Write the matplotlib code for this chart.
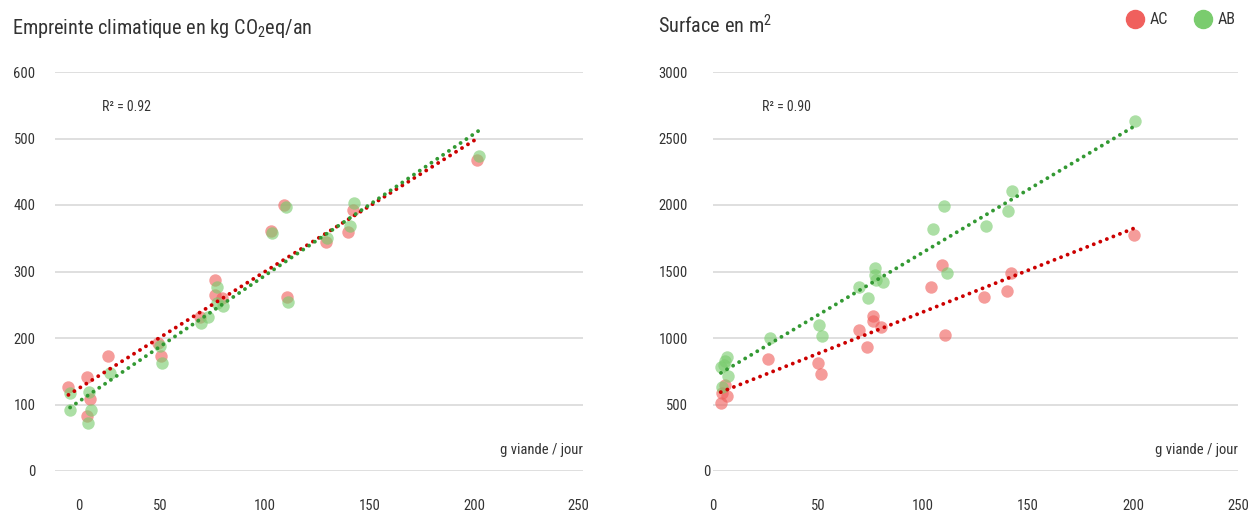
import numpy as np
import matplotlib
matplotlib.use("Agg")
import matplotlib.pyplot as plt
import matplotlib.transforms as mtransforms
from matplotlib.lines import Line2D
from matplotlib import font_manager

# pick a condensed sans family if one is installed
_names = sorted({f.name for f in font_manager.fontManager.ttflist})
_cond = [n for n in _names if ('Condensed' in n or 'Narrow' in n)]
_pref = ['Roboto Condensed', 'Liberation Sans Narrow', 'Open Sans Condensed', 'Noto Sans Condensed']
MAIN = next((n for n in _pref if n in _names), _cond[0] if _cond else 'Roboto')
CONDENSED = MAIN != 'Roboto'
SCALE = 1.0 if CONDENSED else 0.93

FONT = [MAIN, 'DejaVu Sans']
plt.rcParams['font.family'] = FONT
plt.rcParams['mathtext.fontset'] = 'custom'
plt.rcParams['mathtext.rm'] = MAIN
plt.rcParams['mathtext.it'] = MAIN

# ---- data: left panel (climate footprint, kg CO2eq / year) ----
cl_ac_x = [6.4, 15.1, 16.7, 15.1, 25.5, 49.3, 50.6, 69.2, 76.4, 76.4, 79.6, 103.2, 109.4, 110.6, 129.3, 140.0, 142.1, 201.4]
cl_ac_y = [127, 141, 109, 83, 173, 193, 173, 232, 287, 265, 260, 361, 400, 262, 344, 360, 393, 468]
cl_ab_x = [7.2, 7.2, 16.4, 17.2, 15.9, 26.3, 50.1, 51.0, 69.6, 73.2, 77.2, 77.2, 80.4, 103.8, 110.3, 111.1, 129.7, 140.9, 142.8, 202.5]
cl_ab_y = [117, 92, 119, 91, 72, 148, 188, 163, 223, 232, 276, 252, 248, 358, 397, 254, 350, 368, 403, 474]

# ---- data: right panel (surface, m2) ----
sf_ac_x = [3.7, 4.1, 5.7, 6.5, 26.3, 49.9, 51.3, 69.5, 73.5, 76.0, 76.4, 79.9, 103.8, 109.2, 110.5, 129.2, 139.9, 141.9, 200.5]
sf_ac_y = [509, 589, 647, 566, 840, 810, 729, 1060, 935, 1128, 1168, 1085, 1381, 1549, 1023, 1311, 1356, 1491, 1775]
sf_ab_x = [4.1, 3.8, 5.7, 6.5, 7.3, 5.2, 27.1, 50.6, 51.9, 69.7, 74.0, 77.1, 77.1, 77.5, 80.8, 104.6, 110.0, 111.3, 129.9, 140.6, 142.5, 201.0]
sf_ab_y = [634, 784, 827, 860, 714, 800, 1002, 1098, 1015, 1386, 1303, 1524, 1474, 1436, 1423, 1818, 1995, 1491, 1842, 1955, 2105, 2634]

x_ticks = [0, 50, 100, 150, 200, 250]
cl_yticks = [0, 100, 200, 300, 400, 500, 600]
sf_yticks = [0, 500, 1000, 1500, 2000, 2500, 3000]
series_labels = ['AC', 'AB']
r2_values = ['0.92', '0.90']

C_AC = '#F0605D'
C_AB = '#7ACC6E'
T_AC = '#CC0000'
T_AB = '#339933'
GRID = '#D9D9D9'
TXT = '#333333'

W, H = 1257, 512
fig = plt.figure(figsize=(W / 100, H / 100), dpi=100)

def fx(px):
    return px / W

def fy(py):
    return 1 - py / H

ax1 = fig.add_axes([fx(55), fy(471), fx(583) - fx(55), fy(72) - fy(471)])
ax2 = fig.add_axes([fx(713), fy(471), fx(1238) - fx(713), fy(72) - fy(471)])

panels = [
    (ax1, cl_ac_x, cl_ac_y, cl_ab_x, cl_ab_y, cl_yticks, 252),
    (ax2, sf_ac_x, sf_ac_y, sf_ab_x, sf_ab_y, sf_yticks, 250),
]

for ax, ax_x, ax_y, ab_x, ab_y, yt, xmax in panels:
    ax.set_xlim(0, xmax)
    ax.set_ylim(yt[0], yt[-1])
    for s in ax.spines.values():
        s.set_visible(False)
    ax.set_yticks(yt)
    ax.set_xticks(x_ticks)
    ax.yaxis.grid(True, color=GRID, linewidth=1.2)
    ax.set_axisbelow(True)
    ax.tick_params(length=0, labelsize=10.5 * SCALE, labelcolor=TXT)
    ax.tick_params(axis='x', pad=20)
    ax.scatter(ax_x, ax_y, s=80, color=C_AC, alpha=0.62, linewidths=0, zorder=3, clip_on=False)
    ax.scatter(ab_x, ab_y, s=80, color=C_AB, alpha=0.62, linewidths=0, zorder=3, clip_on=False)
    for xs, ys, c in [(ax_x, ax_y, T_AC), (ab_x, ab_y, T_AB)]:
        xs = np.asarray(xs, float)
        ys = np.asarray(ys, float)
        k, b = np.polyfit(xs, ys, 1)
        xl = np.array([xs.min(), xs.max()])
        ax.plot(xl, k * xl + b, color=c, linewidth=2.8, linestyle=(0, (0.01, 1.8)),
                dash_capstyle='round', zorder=4, clip_on=False)
    ax.text(1.0, 0.053, 'g viande / jour', transform=ax.transAxes, ha='right', va='center',
            fontsize=10.5 * SCALE, color=TXT)

ax1.tick_params(axis='y', pad=14)
ax2.tick_params(axis='y', pad=18)

# shift a few "0" labels like the original
fig.canvas.draw()
lab = ax1.get_xticklabels()[0]
lab.set_transform(lab.get_transform() + mtransforms.ScaledTranslation(24 / 100, 0, fig.dpi_scale_trans))
lab = ax2.get_yticklabels()[0]
lab.set_transform(lab.get_transform() + mtransforms.ScaledTranslation(22 / 100, 0, fig.dpi_scale_trans))

ax1.text(fx(102), fy(111), 'R² = ' + r2_values[0], transform=fig.transFigure, fontsize=10 * SCALE,
         color=TXT, va='baseline')
ax2.text(fx(762), fy(111), 'R² = ' + r2_values[1], transform=fig.transFigure, fontsize=10 * SCALE,
         color=TXT, va='baseline')

fig.text(fx(12), fy(34), r'Empreinte climatique en kg CO$_{2}$eq/an', fontsize=14.6 * SCALE,
         color=TXT, va='baseline')
fig.text(fx(658), fy(34), r'Surface en m$^{2}$', fontsize=14.6 * SCALE, color=TXT, va='baseline')

handles = [Line2D([], [], marker='o', linestyle='none', markersize=13, color=C_AC),
           Line2D([], [], marker='o', linestyle='none', markersize=13, color=C_AB)]
fig.legend(handles, series_labels, loc='center right', bbox_to_anchor=(fx(1250), fy(20)),
           ncol=2, frameon=False, fontsize=11.5 * SCALE, handletextpad=0.3, columnspacing=1.6,
           handlelength=1.2, labelcolor=TXT)

fig.savefig('out.png', dpi=100)
